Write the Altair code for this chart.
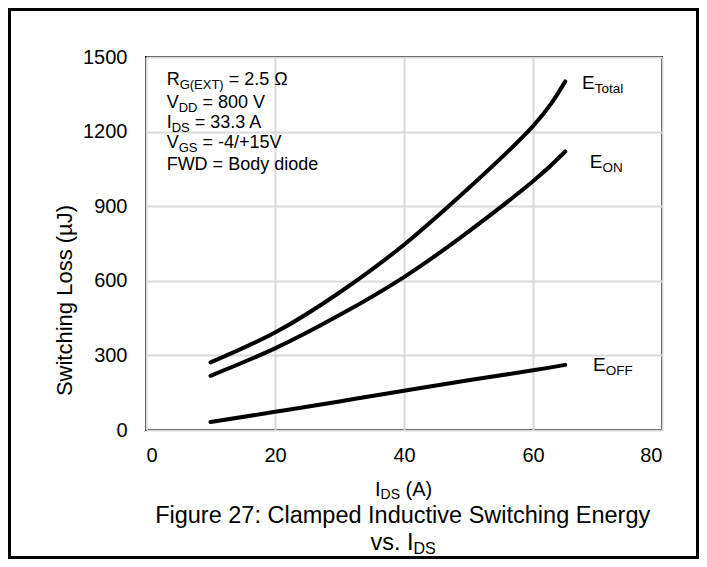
import altair as alt
import pandas as pd

# ---------------- data ----------------
current = [10, 20, 30, 40, 50, 60, 65]
e_total = [272, 392, 553, 745, 972, 1222, 1402]
e_on = [218, 328, 462, 615, 798, 1000, 1120]
e_off = [32, 73, 115, 158, 200, 240, 262]

x_ticks = [0, 20, 40, 60, 80]
y_ticks = [0, 300, 600, 900, 1200, 1500]

FONT = "Liberation Sans"
W, H = 516, 373
PAD_L, PAD_T, PAD_R, PAD_B = 138, 49, 37, 129
PX_X = W / 80.0
PX_Y = H / 1500.0

rows = []
for s, vals in [("E_Total", e_total), ("E_ON", e_on), ("E_OFF", e_off)]:
    for i, v in zip(current, vals):
        rows.append({"I": i, "E": v, "series": s})
df = pd.DataFrame(rows)

# ---------- text layout helper (rich text with subscripts) ----------
AW = {
    " ": .278, "=": .584, ".": .278, "(": .333, ")": .333, "-": .333,
    "/": .278, "+": .584, ":": .278, "Ω": .768, "A": .667, "B": .667, "C": .722,
    "D": .722, "E": .667, "F": .611, "G": .778, "I": .278, "N": .722, "O": .778,
    "R": .722, "S": .667, "T": .611, "V": .667, "W": .944, "X": .667, "a": .556,
    "d": .556, "e": .556, "i": .222, "l": .222, "o": .556, "s": .5, "t": .278,
    "v": .5, "y": .5,
}


def tw(s, fs):
    return sum(AW.get(c, 0.556) for c in s) * fs


text_rows = []


def rich(segments, x0, y0, fs_main, fs_sub, sub_off):
    x = x0
    for txt, sub in segments:
        fs = fs_sub if sub else fs_main
        y = y0 - (sub_off / PX_Y if sub else 0)
        stripped = txt.lstrip(" ")
        lead = txt[: len(txt) - len(stripped)]
        x += tw(lead, fs) / PX_X
        text_rows.append({"x": x, "y": y, "t": stripped, "fs": fs})
        x += tw(stripped, fs) / PX_X


# conditions block
cond_lines = [
    [("R", 0), ("G(EXT)", 1), (" = 2.5 Ω", 0)],
    [("V", 0), ("DD", 1), (" = 800 V", 0)],
    [("I", 0), ("DS", 1), (" = 33.3 A", 0)],
    [("V", 0), ("GS", 1), (" = -4/+15V", 0)],
    [("FWD = Body diode", 0)],
]
cond_y = [1407, 1315, 1235, 1154, 1066]
for segs, yy in zip(cond_lines, cond_y):
    rich(segs, 3.2, yy, 18, 13, 5)

# curve labels
rich([("E", 0), ("Total", 1)], 67.6, 1395, 19, 13.5, 6)
rich([("E", 0), ("ON", 1)], 68.8, 1078, 19, 13.5, 6)
rich([("E", 0), ("OFF", 1)], 69.3, 261, 19, 13.5, 6)

# x axis title
rich([("I", 0), ("DS", 1), (" (A)", 0)], 35.5, -241, 20, 14, 5)

# caption
cap1 = "Figure 27: Clamped Inductive Switching Energy"
rich([(cap1, 0)], 40 - tw(cap1, 23.5) / 2 / PX_X, -344, 23.5, 16, 6)
rich([("vs. I", 0), ("DS", 1)], 34.8, -454, 23.5, 16, 6)

tdf = pd.DataFrame(text_rows)

xs = alt.Scale(domain=[0, 80], nice=False, zero=False)
ys = alt.Scale(domain=[0, 1500], nice=False, zero=False)

lines = alt.Chart(df).mark_line(
    color="black", strokeWidth=4, interpolate="natural", strokeCap="round"
).encode(
    x=alt.X("I:Q", scale=xs, axis=alt.Axis(
        values=x_ticks, title=None, grid=True, ticks=False, domain=False,
        labelFontSize=20, labelPadding=15, labelColor="black", format="d",
        gridColor="#d9d9d9", gridWidth=2)),
    y=alt.Y("E:Q", scale=ys, axis=alt.Axis(
        values=y_ticks, title="Switching Loss (µJ)", grid=True, ticks=False,
        domain=False, labelFontSize=20, labelPadding=19, labelColor="black",
        format="d",
        gridColor="#d9d9d9", gridWidth=2, titleFontSize=22,
        titleFontWeight="normal", titleColor="black", titleX=-82, titleY=243,
        titleAngle=270, titleAlign="center", titleBaseline="middle")),
    detail="series:N",
)

texts = alt.Chart(tdf).mark_text(
    align="left", baseline="middle", color="black", font=FONT
).encode(
    x=alt.X("x:Q", scale=xs),
    y=alt.Y("y:Q", scale=ys),
    text="t:N",
    size=alt.Size("fs:Q", scale=None, legend=None),
)

frame = alt.Chart(pd.DataFrame({"k": [0]})).mark_rect(
    filled=False, stroke="black", strokeWidth=3
).encode(
    x=alt.value(-PAD_L + 1.5), x2=alt.value(W + PAD_R - 1.5),
    y=alt.value(-PAD_T + 1.5), y2=alt.value(H + PAD_B - 1.5),
)

chart = alt.layer(lines, texts, frame).properties(
    width=W, height=H,
    autosize=alt.AutoSizeParams(type="none"),
    padding={"left": PAD_L, "top": PAD_T, "right": PAD_R, "bottom": PAD_B},
    background="white",
).configure(font=FONT).configure_view(stroke="black", strokeWidth=2)

chart.save("out.html", embed_options={"renderer": "svg", "actions": False})
